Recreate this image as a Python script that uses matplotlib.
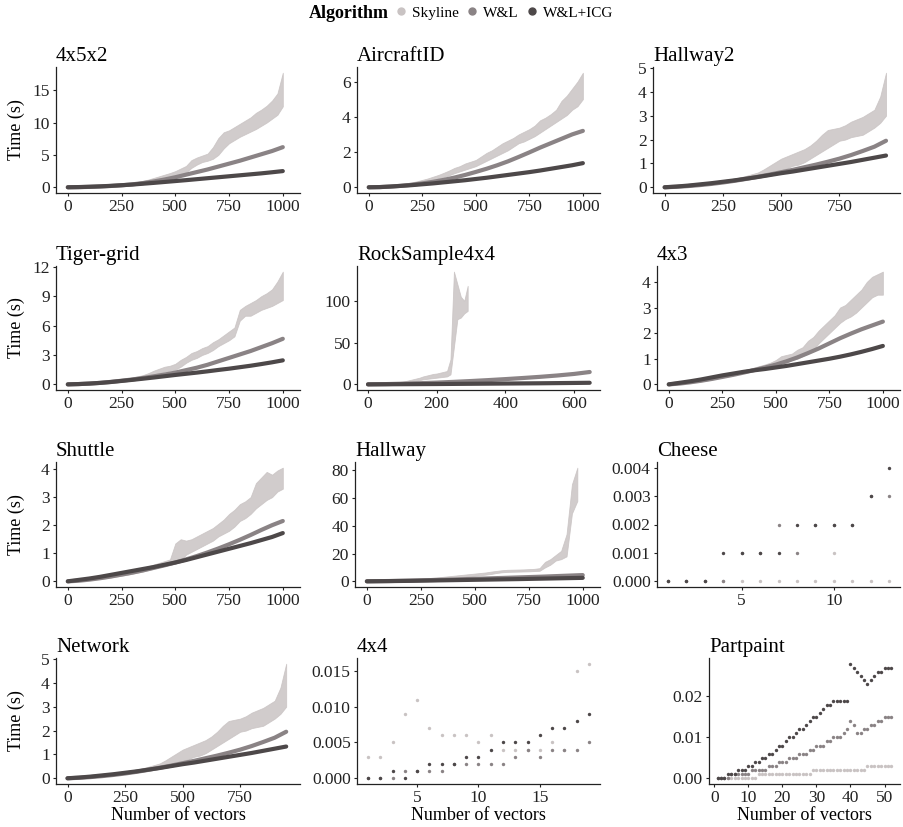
import matplotlib
matplotlib.use('Agg')
import matplotlib.pyplot as plt
from matplotlib.lines import Line2D

plt.rcParams['font.family'] = ['Liberation Serif', 'DejaVu Serif']

SKY = '#c9c3c3'
WL = '#8a8385'
ICG = '#4d4849'

# ---- data ----
# dense panels: Skyline as lower/upper edge of its cloud, W&L and W&L+ICG as curves
X25 = list(range(0, 1001, 25))
X50 = list(range(0, 1001, 50))

p4x5x2_sky_lo = [0,0.01,0.03,0.05,0.08,0.12,0.16,0.2,0.25,0.3, 0.36,0.42,0.5,0.6,0.72,0.85,1.0,1.15,1.3,1.5,
                 1.7,2.0,2.3,3.0,3.5,3.9,4.1,4.4,5.0,6.0, 6.8,7.3,7.8,8.2,8.6,9.0,9.5,10.0,10.6,11.2, 12.5]
p4x5x2_sky_hi = [0,0.02,0.04,0.07,0.11,0.15,0.2,0.26,0.32,0.4, 0.48,0.58,0.7,0.85,1.0,1.2,1.45,1.7,1.95,2.2,
                 2.5,2.9,3.3,4.2,4.6,4.9,5.2,6.2,7.6,8.5, 8.8,9.3,9.8,10.3,10.8,11.5,12.0,12.6,13.4,14.5, 17.7]
p4x5x2_wl = [0,0.02,0.06,0.12,0.2,0.3,0.45,0.65,0.9,1.2,1.55,1.95,2.35,2.75,3.2,3.65,4.1,4.6,5.1,5.6,6.2]
p4x5x2_icg = [0,0.03,0.08,0.14,0.22,0.32,0.42,0.55,0.68,0.82,0.96,1.1,1.25,1.4,1.55,1.7,1.85,2.0,2.15,2.32,2.5]

aircraft_sky_lo = [0,0.01,0.02,0.04,0.06,0.09,0.12,0.16,0.2,0.25, 0.3,0.36,0.42,0.5,0.58,0.68,0.8,0.9,1.0,1.1,
                   1.2,1.35,1.5,1.65,1.8,1.95,2.1,2.3,2.5,2.6, 2.75,2.9,3.1,3.3,3.5,3.7,3.9,4.1,4.4,4.6, 5.0]
aircraft_sky_hi = [0,0.02,0.04,0.06,0.09,0.13,0.17,0.22,0.28,0.34, 0.42,0.5,0.6,0.7,0.82,0.95,1.1,1.2,1.35,1.45,
                   1.55,1.75,1.95,2.1,2.3,2.5,2.65,2.8,3.0,3.15, 3.3,3.5,3.8,3.95,4.15,4.4,4.9,5.2,5.6,6.0, 6.5]
aircraft_wl = [0,0.01,0.04,0.08,0.14,0.22,0.31,0.42,0.55,0.7,0.87,1.05,1.25,1.47,1.72,1.98,2.25,2.5,2.75,3.0,3.2]
aircraft_icg = [0,0.01,0.04,0.08,0.12,0.17,0.22,0.28,0.34,0.4,0.47,0.54,0.62,0.7,0.78,0.86,0.95,1.05,1.15,1.25,1.37]

X25_950 = list(range(0, 951, 25))
X50_950 = list(range(0, 951, 50))
hallway2_sky_lo = [0,0.01,0.02,0.03,0.05,0.07,0.09,0.12,0.15,0.18, 0.22,0.26,0.3,0.35,0.4,0.46,0.52,0.56,0.6,0.65,
                   0.72,0.8,0.9,0.95,1.05,1.2,1.35,1.5,1.65,1.8, 1.95,2.0,2.1,2.15,2.2,2.35,2.5,2.7,3.0]
hallway2_sky_hi = [0,0.01,0.03,0.05,0.07,0.09,0.12,0.15,0.19,0.23, 0.27,0.32,0.37,0.42,0.48,0.55,0.62,0.75,0.9,1.05,
                   1.2,1.3,1.4,1.5,1.6,1.75,1.95,2.2,2.4,2.45, 2.5,2.6,2.75,2.85,2.95,3.1,3.25,3.8,4.8]
hallway2_wl = [0,0.02,0.05,0.09,0.14,0.2,0.27,0.35,0.44,0.53,0.63,0.73,0.84,0.95,1.07,1.2,1.35,1.52,1.7,1.95]
hallway2_icg = [0,0.03,0.07,0.12,0.17,0.23,0.29,0.36,0.43,0.51,0.59,0.66,0.74,0.82,0.9,0.98,1.06,1.15,1.24,1.33]

tiger_sky_lo = [0,0.02,0.04,0.07,0.1,0.14,0.18,0.23,0.28,0.33, 0.38,0.45,0.52,0.6,0.7,0.85,1.0,1.15,1.3,1.4,
                1.5,1.8,2.2,2.5,2.7,3.0,3.2,3.5,3.9,4.2, 4.5,4.9,6.5,7.0,7.0,7.3,7.6,7.8,8.0,8.3, 8.6]
tiger_sky_hi = [0,0.03,0.06,0.09,0.13,0.18,0.23,0.29,0.35,0.42, 0.5,0.6,0.7,0.82,0.95,1.15,1.4,1.6,1.8,1.9,
                2.1,2.5,2.8,3.2,3.4,3.7,3.9,4.3,4.6,5.0, 5.4,5.8,7.6,8.0,8.3,8.6,9.0,9.3,9.7,10.5, 11.5]
tiger_wl = [0,0.03,0.08,0.15,0.25,0.37,0.5,0.65,0.82,1.0,1.2,1.45,1.7,2.0,2.35,2.7,3.05,3.4,3.8,4.2,4.65]
tiger_icg = [0,0.03,0.08,0.15,0.24,0.35,0.46,0.58,0.7,0.83,0.96,1.08,1.2,1.33,1.47,1.6,1.75,1.9,2.07,2.25,2.45]

rock_sky_x = list(range(0, 291, 10))
rock_sky_lo = [0,0.1,0.2,0.3,0.5,0.7,0.9,1.1,1.4,1.7, 2.0,2.4,2.8,3.2,4.0,5.0,6.0,6.5,7.0,7.5,
               8.0,8.5,9.0,9.5,12.0,45.0,78.0,80.0,85.0,88.0]
rock_sky_hi = [0,0.2,0.3,0.5,0.7,1.0,1.3,1.7,2.2,2.8, 3.3,4.0,5.0,6.0,7.0,8.0,9.5,10.5,11.5,12.5,
               13.0,14.0,15.0,16.0,30.0,135.0,120.0,105.0,100.0,118.0]
rock_x = [0,50,100,150,200,250,300,350,400,450,500,550,600,645]
rock_wl = [0,0.3,0.8,1.4,2.1,3.0,4.0,5.1,6.3,7.6,9.0,10.6,12.5,14.8]
rock_icg = [0,0.1,0.2,0.3,0.4,0.55,0.7,0.85,1.0,1.15,1.3,1.5,1.7,1.9]

p4x3_sky_lo = [0,0.01,0.02,0.04,0.06,0.09,0.12,0.15,0.19,0.23, 0.27,0.31,0.36,0.41,0.46,0.51,0.56,0.61,0.66,0.72,
               0.78,0.85,0.85,0.95,1.0,1.1,1.2,1.35,1.6,1.8, 2.0,2.2,2.4,2.55,2.65,2.8,3.0,3.2,3.4,3.5, 3.5]
p4x3_sky_hi = [0,0.02,0.04,0.06,0.09,0.12,0.16,0.2,0.24,0.28, 0.33,0.38,0.43,0.48,0.54,0.6,0.66,0.72,0.78,0.85,
               0.95,1.1,1.15,1.2,1.35,1.45,1.7,1.85,2.1,2.3, 2.5,2.7,3.0,3.1,3.3,3.5,3.7,4.0,4.2,4.3, 4.4]
p4x3_wl = [0,0.03,0.08,0.14,0.21,0.29,0.37,0.46,0.56,0.66,0.77,0.9,1.05,1.22,1.4,1.6,1.8,1.98,2.15,2.3,2.45]
p4x3_icg = [0,0.06,0.12,0.19,0.27,0.35,0.42,0.49,0.55,0.6,0.66,0.72,0.79,0.86,0.93,1.0,1.08,1.17,1.27,1.38,1.5]

shuttle_sky_lo = [0,0.01,0.02,0.03,0.05,0.07,0.09,0.11,0.14,0.17, 0.2,0.23,0.27,0.31,0.35,0.4,0.45,0.5,0.55,0.6,
                  0.65,0.75,0.95,1.05,1.15,1.25,1.35,1.45,1.6,1.7, 1.8,1.95,2.15,2.25,2.4,2.6,2.75,2.9,3.0,3.2, 3.3]
shuttle_sky_hi = [0,0.02,0.04,0.06,0.08,0.11,0.14,0.17,0.21,0.25, 0.29,0.33,0.38,0.43,0.48,0.54,0.6,0.66,0.72,0.78,
                  1.35,1.5,1.45,1.5,1.6,1.7,1.8,1.9,2.05,2.2, 2.4,2.55,2.75,2.85,3.0,3.5,3.7,3.9,3.8,3.95, 4.05]
shuttle_wl = [0,0.02,0.06,0.11,0.17,0.24,0.31,0.39,0.48,0.57,0.67,0.78,0.9,1.03,1.17,1.32,1.48,1.65,1.83,2.0,2.15]
shuttle_icg = [0,0.05,0.1,0.16,0.23,0.3,0.37,0.44,0.51,0.59,0.67,0.76,0.86,0.96,1.06,1.16,1.26,1.36,1.47,1.58,1.72]

X25_975 = list(range(0, 976, 25))
X100 = list(range(0, 1001, 100))
hallway_sky_lo = [0,0.05,0.1,0.2,0.3,0.4,0.5,0.6,0.8,1.0, 1.2,1.4,1.6,1.8,2.1,2.4,2.7,3.0,3.3,3.6,
                  4.0,4.4,4.8,5.3,6.0,6.5,6.8,6.9,7.0,7.1, 7.2,7.4,7.6,10.0,12.0,15.0,16.0,18.0,49.0,58.0]
hallway_sky_hi = [0,0.1,0.2,0.3,0.5,0.7,0.9,1.1,1.3,1.6, 1.9,2.2,2.5,2.8,3.2,3.6,4.0,4.4,4.8,5.2,
                  5.6,6.0,6.4,7.0,7.5,8.0,8.3,8.4,8.5,8.6, 8.8,9.0,9.5,14.0,16.0,19.0,22.0,34.0,70.0,82.0]
hallway_wl = [0,0.2,0.5,0.9,1.3,1.8,2.3,2.8,3.3,3.9,4.5]
hallway_icg = [0,0.15,0.35,0.6,0.85,1.1,1.35,1.6,1.9,2.2,2.5]

# Network looks identical to Hallway2 in the picture
network_sky_lo = list(hallway2_sky_lo)
network_sky_hi = list(hallway2_sky_hi)
network_wl = list(hallway2_wl)
network_icg = list(hallway2_icg)

# sparse panels: single points
cheese_sky_x = [1,2,3,4,5,6,7,8,9,10,11,12,13,10]
cheese_sky_y = [0,0,0,0,0,0,0,0,0,0.001,0,0,0,0]
cheese_x = [1,2,3,4,5,6,7,8,9,10,11,12,13]
cheese_wl = [0,0,0,0,0.001,0.001,0.002,0.001,0.002,0.002,0.002,0.003,0.003]
cheese_icg = [0,0,0,0.001,0.001,0.001,0.001,0.002,0.002,0.002,0.002,0.003,0.004]

p4x4_x = list(range(1, 20))
p4x4_sky = [0.003,0.003,0.005,0.009,0.011,0.007,0.006,0.006,0.006,0.005,0.006,0.004,0.004,0.004,0.004,0.005,0.004,0.015,0.016]
p4x4_wl = [0,0,0,0.001,0.001,0.001,0.001,0.002,0.002,0.002,0.002,0.002,0.003,0.004,0.003,0.004,0.004,0.004,0.005]
p4x4_icg = [0,0,0.001,0,0.001,0.002,0.002,0.002,0.003,0.003,0.004,0.005,0.005,0.005,0.006,0.007,0.007,0.008,0.009]

part_x = list(range(1, 53))
part_sky = [0]*12 + [0.001]*16 + [0.002]*16 + [0.003]*8
part_wl = [0,0,0,0,0.001,0.001,0.001,0.001,0.001,0.001,0.002,0.002,0.002,0.002,0.002,0.003,0.003,0.003,0.004,0.004,
           0.004,0.005,0.005,0.005,0.006,0.006,0.006,0.007,0.007,0.008,0.008,0.008,0.009,0.009,0.01,0.01,0.01,0.011,0.012,0.014,
           0.013,0.011,0.011,0.012,0.012,0.013,0.013,0.014,0.014,0.015,0.015,0.015]
part_icg = [0,0,0,0.001,0.001,0.001,0.002,0.002,0.002,0.003,0.003,0.004,0.004,0.005,0.005,0.006,0.006,0.007,0.008,0.008,
            0.009,0.01,0.01,0.011,0.012,0.012,0.013,0.014,0.015,0.015,0.016,0.017,0.018,0.018,0.019,0.019,0.019,0.019,0.019,0.028,
            0.027,0.026,0.025,0.024,0.023,0.024,0.025,0.026,0.026,0.027,0.027,0.027]

W, H = 904, 827
fig = plt.figure(figsize=(W / 100, H / 100), dpi=100)


def add_ax(l, r, t, b):
    return fig.add_axes([l / W, 1 - b / H, (r - l) / W, (b - t) / H])


def style(ax, title, xticks, yticks, yfmt=None, xlim=None):
    for s in ['top', 'right']:
        ax.spines[s].set_visible(False)
    for s in ['left', 'bottom']:
        ax.spines[s].set_color('#222222')
        ax.spines[s].set_linewidth(0.9)
    ax.tick_params(direction='out', length=2.5, width=0.8, colors='#222222',
                   labelsize=12.5, pad=2)
    ax.set_xticks(xticks)
    ax.set_yticks(yticks)
    if yfmt:
        ax.set_yticklabels([yfmt.format(v) for v in yticks])
    if xlim:
        ax.set_xlim(*xlim)
    ax.set_title(title, loc='left', fontsize=15, pad=4)


def dense(ax, sx, lo, hi, cx, wl, icg):
    ax.fill_between(sx, lo, hi, color=SKY, alpha=0.85, lw=0.6, edgecolor=SKY)
    ax.plot(cx, wl, color=WL, lw=3.0, solid_capstyle='round')
    ax.plot(cx, icg, color=ICG, lw=3.0, solid_capstyle='round')


def sparse(ax, sx, sy, wx, wy, ix, iy):
    ax.scatter(sx, sy, s=6, color=SKY, lw=0)
    ax.scatter(wx, wy, s=6, color=WL, lw=0)
    ax.scatter(ix, iy, s=6, color=ICG, lw=0)


T1 = [0, 250, 500, 750, 1000]
T2 = [0, 250, 500, 750]
L1 = (-55, 1080)
L2 = (-50, 1010)

ax = add_ax(56, 300, 67, 193)
dense(ax, X25, p4x5x2_sky_lo, p4x5x2_sky_hi, X50, p4x5x2_wl, p4x5x2_icg)
style(ax, '4x5x2', T1, [0, 5, 10, 15], xlim=L1)

ax = add_ax(357, 600, 67, 193)
dense(ax, X25, aircraft_sky_lo, aircraft_sky_hi, X50, aircraft_wl, aircraft_icg)
style(ax, 'AircraftID', T1, [0, 2, 4, 6], xlim=L1)

ax = add_ax(653, 900, 67, 193)
dense(ax, X25_950, hallway2_sky_lo, hallway2_sky_hi, X50_950, hallway2_wl, hallway2_icg)
style(ax, 'Hallway2', T2, [0, 1, 2, 3, 4, 5], xlim=L2)

ax = add_ax(56, 300, 266, 390)
dense(ax, X25, tiger_sky_lo, tiger_sky_hi, X50, tiger_wl, tiger_icg)
style(ax, 'Tiger-grid', T1, [0, 3, 6, 9, 12], xlim=L1)

ax = add_ax(357, 600, 266, 390)
dense(ax, rock_sky_x, rock_sky_lo, rock_sky_hi, rock_x, rock_wl, rock_icg)
style(ax, 'RockSample4x4', [0, 200, 400, 600], [0, 50, 100], xlim=(-32, 675))

ax = add_ax(657, 900, 266, 390)
dense(ax, X25, p4x3_sky_lo, p4x3_sky_hi, X50, p4x3_wl, p4x3_icg)
style(ax, '4x3', T1, [0, 1, 2, 3, 4], xlim=L1)

ax = add_ax(56, 300, 462, 587)
dense(ax, X25, shuttle_sky_lo, shuttle_sky_hi, X50, shuttle_wl, shuttle_icg)
style(ax, 'Shuttle', T1, [0, 1, 2, 3, 4], xlim=L1)

ax = add_ax(355, 600, 462, 587)
dense(ax, X25_975, hallway_sky_lo, hallway_sky_hi, X100, hallway_wl, hallway_icg)
style(ax, 'Hallway', T1, [0, 20, 40, 60, 80], xlim=L1)

ax = add_ax(657, 900, 462, 587)
sparse(ax, cheese_sky_x, cheese_sky_y, cheese_x, cheese_wl, cheese_x, cheese_icg)
style(ax, 'Cheese', [5, 10], [0, 0.001, 0.002, 0.003, 0.004], '{:.3f}')

ax = add_ax(56, 300, 658, 784)
dense(ax, X25_950, network_sky_lo, network_sky_hi, X50_950, network_wl, network_icg)
style(ax, 'Network', T2, [0, 1, 2, 3, 4, 5], xlim=L2)

ax = add_ax(357, 600, 658, 784)
sparse(ax, p4x4_x, p4x4_sky, p4x4_x, p4x4_wl, p4x4_x, p4x4_icg)
style(ax, '4x4', [5, 10, 15], [0, 0.005, 0.010, 0.015], '{:.3f}')

ax = add_ax(709, 900, 658, 784)
sparse(ax, part_x, part_sky, part_x, part_wl, part_x, part_icg)
style(ax, 'Partpaint', [0, 10, 20, 30, 40, 50], [0, 0.01, 0.02], '{:.2f}')

# axis titles
for yc in [130, 328, 525, 721]:
    fig.text(16 / W, 1 - yc / H, 'Time (s)', rotation=90, ha='center', va='center', fontsize=13)
for xc in [178, 478, 804]:
    fig.text(xc / W, 1 - 815 / H, 'Number of vectors', ha='center', va='center', fontsize=13)

# legend
fig.text(389 / W, 1 - 13 / H, 'Algorithm', weight='bold', ha='right', va='center', fontsize=13)
handles = [Line2D([], [], ls='', marker='o', ms=5, color=c) for c in (SKY, WL, ICG)]
fig.legend(handles, ['Skyline', 'W&L', 'W&L+ICG'], loc='center left',
           bbox_to_anchor=(395 / W, 1 - 13 / H), ncol=3, frameon=False, fontsize=11,
           handlelength=0.8, handletextpad=0.3, columnspacing=0.5, borderpad=0, borderaxespad=0)

fig.savefig('out.png', dpi=100)
